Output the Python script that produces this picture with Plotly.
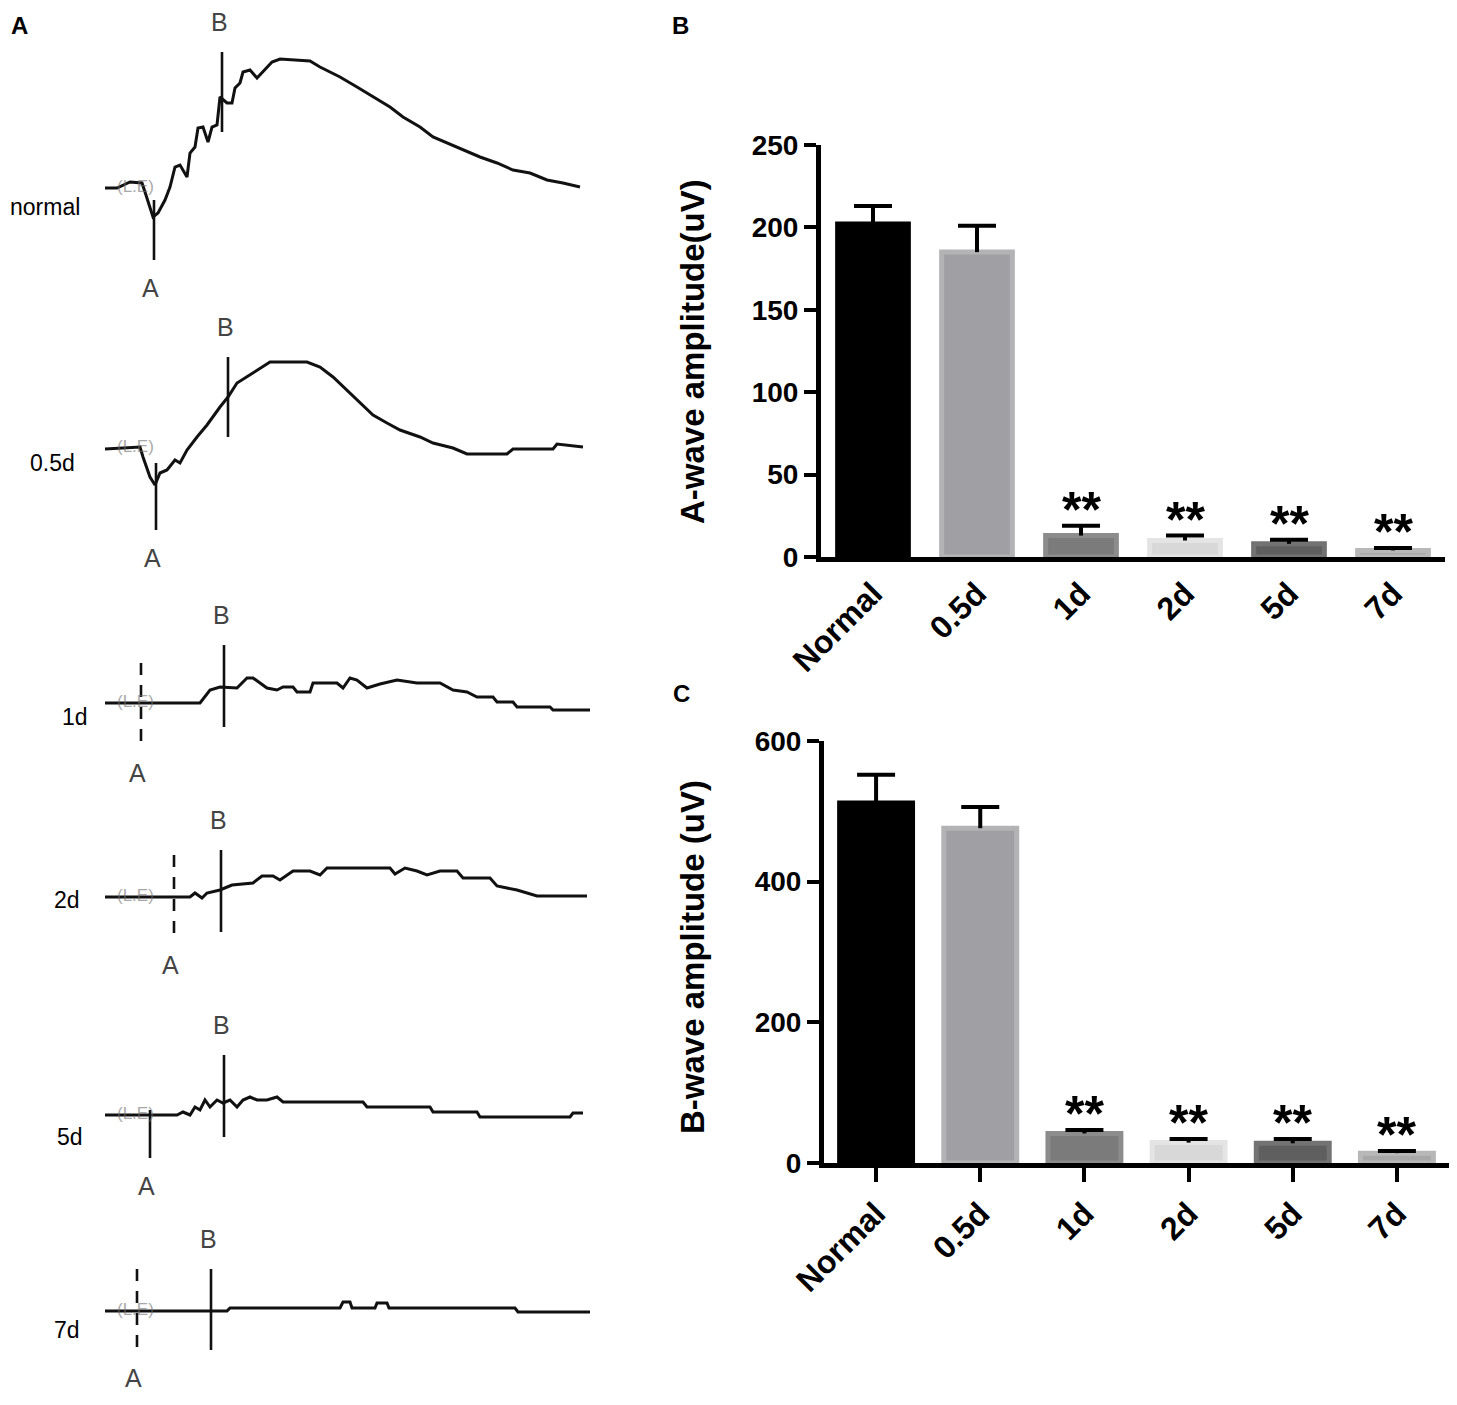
import plotly.graph_objects as go

# the page adds an 8 px body margin, so the figure is 16 px smaller than the window
PAGE_W, PAGE_H, BODY = 1457, 1405, 8
W, H = PAGE_W - 2 * BODY, PAGE_H - 2 * BODY

# ---- panels B / C : mean amplitude per group ----
groups = ["Normal", "0.5d", "1d", "2d", "5d", "7d"]
a_wave = [202, 185, 13, 10, 8, 4]
a_wave_sem = [11, 16, 6, 3, 2.5, 1.5]
b_wave = [512, 476, 42, 29, 28, 14]
b_wave_sem = [40, 30, 5, 5, 6, 3]
signif = ["", "", "**", "**", "**", "**"]

bar_fill = ["#000000", "#a0a0a4", "#7b7b7b", "#d8d8d8", "#5f5f5f", "#a8a8a8"]
bar_edge = ["#000000", "#b3b3b5", "#8c8c8c", "#e4e4e4", "#737373", "#b8b8b8"]

# ---- panel A : ERG recordings (time samples, amplitude rel. baseline) ----
rows = ["normal", "0.5d", "1d", "2d", "5d", "7d"]

t_normal = [105, 117, 130, 142, 145, 150, 153, 158, 165, 170, 175, 180, 187, 190, 195,
            198, 203, 208, 212, 217, 220, 227, 232, 235, 240, 243, 250, 257, 263, 272,
            280, 310, 320, 340, 357, 373, 390, 403, 420, 433, 447, 463, 480, 497, 513,
            530, 547, 563, 580]
v_normal = [0, 0, 6, 5, -4, -19, -29, -25, -12, 1, 21, 23, 11, 35, 41,
            60, 61, 46, 61, 63, 91, 85, 85, 100, 105, 116, 118, 110, 116, 126,
            129, 127, 121, 111, 101, 91, 81, 71, 61, 51, 45, 38, 31, 25, 18,
            15, 8, 5, 1]

t_05d = [105, 140, 143, 150, 155, 160, 167, 175, 180, 187, 197, 207, 220, 228, 237,
         253, 270, 307, 320, 333, 347, 360, 373, 387, 400, 420, 433, 453, 467, 507,
         513, 553, 557, 583]
v_05d = [0, 2, -8, -28, -36, -24, -21, -11, -14, -1, 12, 24, 42, 52, 66,
         76, 87, 87, 82, 72, 59, 46, 34, 26, 19, 12, 6, 1, -5, -5,
         0, 0, 5, 2]

t_1d = [105, 200, 210, 220, 237, 247, 253, 267, 277, 283, 293, 297, 310, 313, 337,
        343, 350, 357, 367, 380, 397, 417, 440, 453, 467, 477, 493, 497, 513, 517,
        550, 553, 590]
v_1d = [0, 0, 13, 16, 15, 25, 25, 15, 13, 16, 16, 11, 11, 20, 20,
        15, 25, 23, 15, 19, 23, 20, 20, 13, 11, 6, 6, 1, 1, -4,
        -4, -7, -7]

t_2d = [105, 190, 195, 202, 207, 220, 232, 253, 262, 273, 280, 293, 310, 320, 327,
        390, 395, 405, 417, 427, 440, 457, 463, 490, 497, 517, 537, 587]
v_2d = [0, 0, 4, -1, 4, 7, 12, 14, 21, 21, 17, 26, 26, 22, 29,
        29, 23, 29, 26, 22, 26, 26, 19, 19, 11, 7, 1, 1]

t_5d = [105, 177, 183, 190, 195, 200, 205, 210, 217, 223, 230, 237, 243, 250, 257,
        267, 277, 283, 363, 367, 430, 433, 477, 480, 570, 573, 583]
v_5d = [0, 0, 3, 0, 8, 5, 15, 8, 15, 12, 15, 8, 15, 18, 15,
        15, 18, 13, 13, 8, 8, 3, 3, -2, -2, 2, 2]

t_7d = [105, 227, 230, 340, 343, 350, 352, 375, 377, 387, 389, 515, 518, 590]
v_7d = [0, 0, 3, 3, 9, 9, 3, 3, 8, 8, 3, 3, -1, -1]

# a-wave / b-wave cursor markers on each recording
a_t = [154, 156, 141, 174, 150, 137]
a_top = [-12, -14, 40, 42, 5, 42]
a_bot = [-72, -81, -42, -40, -43, -39]
a_dashed = [False, False, True, True, False, True]
b_t = [222, 228, 224, 221, 224, 211]
b_top = [136, 92, 58, 47, 60, 42]
b_bot = [56, 12, -24, -35, -22, -39]

traces_t = [t_normal, t_05d, t_1d, t_2d, t_5d, t_7d]
traces_v = [v_normal, v_05d, v_1d, v_2d, v_5d, v_7d]

# layout of panel A rows (page pixels)
band_top = [BODY, 300, 590, 800, 1000, 1215]
band_bot = [300, 580, 790, 980, 1200, PAGE_H - BODY]
base_px = [188, 449, 703, 897, 1115, 1311]
label_x = [8, 28, 60, 52, 55, 52]
label_y = [207, 463, 717, 900, 1137, 1330]

FONT = "Liberation Sans, Arial, sans-serif"


def px_x(p):
    return (p - BODY) / W


def px_y(p):
    return 1 - (p - BODY) / H


def paper_text(text, x, y, size, bold=False, angle=0, xanchor="center"):
    return dict(x=px_x(x), y=px_y(y), xref="paper", yref="paper", text=text,
                showarrow=False, xanchor=xanchor, yanchor="middle", textangle=angle,
                font=dict(family=FONT, size=size, color="black",
                          weight="bold" if bold else "normal"))


fig = go.Figure()
annotations = []

# bar charts: bars + error stems, caps drawn by a zero-length error at the tip
panels = [("x", "y", a_wave, a_wave_sem, 0.68), ("x2", "y2", b_wave, b_wave_sem, 0.70)]
for xa, ya, vals, sem, bw in panels:
    fig.add_trace(go.Bar(
        x=groups, y=vals, width=bw,
        marker=dict(color=bar_fill, line=dict(color=bar_edge, width=5)),
        error_y=dict(type="data", array=sem, arrayminus=[0] * len(groups),
                     symmetric=False, color="black", thickness=4, width=0),
        xaxis=xa, yaxis=ya, hoverinfo="skip"))
    tips = [v + e for v, e in zip(vals, sem)]
    fig.add_trace(go.Scatter(
        x=groups, y=tips, mode="markers",
        marker=dict(size=1, color="rgba(0,0,0,0)"),
        error_y=dict(type="data", array=[0] * len(groups), color="black",
                     thickness=4, width=19),
        xaxis=xa, yaxis=ya, hoverinfo="skip"))
    for g, tip, s in zip(groups, tips, signif):
        if s:
            annotations.append(dict(x=g, y=tip, xref=xa, yref=ya, text=s,
                                    showarrow=False, yanchor="bottom", yshift=-14,
                                    font=dict(family=FONT, size=50, color="black",
                                              weight="bold")))

# ERG recordings
for i in range(6):
    xa, ya = f"x{3 + i}", f"y{3 + i}"
    fig.add_trace(go.Scatter(x=traces_t[i], y=traces_v[i], mode="lines",
                             line=dict(color="#111111", width=3),
                             xaxis=xa, yaxis=ya, hoverinfo="skip"))
    fig.add_trace(go.Scatter(x=[b_t[i], b_t[i]], y=[b_top[i], b_bot[i]], mode="lines",
                             line=dict(color="#111111", width=2.6),
                             xaxis=xa, yaxis=ya, hoverinfo="skip"))
    fig.add_trace(go.Scatter(x=[a_t[i], a_t[i]], y=[a_top[i], a_bot[i]], mode="lines",
                             line=dict(color="#111111", width=2.6,
                                       dash="12px,10px" if a_dashed[i] else "solid"),
                             xaxis=xa, yaxis=ya, hoverinfo="skip"))
    annotations.append(dict(x=b_t[i], y=b_top[i], xref=xa, yref=ya, text="B",
                            showarrow=False, yshift=30, xshift=-3,
                            xanchor="center", yanchor="middle",
                            font=dict(family=FONT, size=25, color="#444444")))
    annotations.append(dict(x=a_t[i], y=a_bot[i], xref=xa, yref=ya, text="A",
                            showarrow=False, yshift=-28, xshift=-4,
                            xanchor="center", yanchor="middle",
                            font=dict(family=FONT, size=25, color="#444444")))
    annotations.append(dict(x=135, y=2, xref=xa, yref=ya, text="(L.E)",
                            showarrow=False, opacity=0.6,
                            xanchor="center", yanchor="middle",
                            font=dict(family=FONT, size=17, color="#707070")))
    annotations.append(paper_text(rows[i], label_x[i], label_y[i], 23, xanchor="left"))

# axis titles and panel letters
annotations.append(paper_text("A-wave amplitude(uV)", 692, 352, 33, bold=True, angle=-90))
annotations.append(paper_text("B-wave amplitude (uV)", 692, 957, 33, bold=True, angle=-90))
annotations.append(paper_text("A", 19, 26, 24, bold=True))
annotations.append(paper_text("B", 680, 26, 24, bold=True))
annotations.append(paper_text("C", 681, 693, 24, bold=True))

tick_font = dict(family=FONT, size=28, color="black", weight="bold")
xtick_font = dict(family=FONT, size=32, color="black", weight="bold")

common_y = dict(showline=True, linewidth=5, linecolor="black", ticks="outside",
                ticklen=12, tickwidth=4, tickcolor="black", tickfont=tick_font,
                showgrid=False, zeroline=False, automargin=False)
common_x = dict(range=[-0.5, 5.5], showline=True, linewidth=5, linecolor="black",
                tickangle=-45, tickfont=xtick_font, showgrid=False, zeroline=False,
                automargin=False)

layout = dict(
    width=W, height=H,
    margin=dict(l=0, r=0, t=0, b=0, pad=0, autoexpand=False),
    paper_bgcolor="white", plot_bgcolor="white", showlegend=False,
    annotations=annotations,
    xaxis=dict(domain=[px_x(821), px_x(1445)], anchor="y", ticks="", **common_x),
    yaxis=dict(domain=[px_y(557), px_y(145)], anchor="x", range=[0, 250], dtick=50,
               **common_y),
    xaxis2=dict(domain=[px_x(824), 1.0], anchor="y2", ticks="outside", ticklen=14,
                tickwidth=4, tickcolor="black", **common_x),
    yaxis2=dict(domain=[px_y(1163), px_y(741)], anchor="x2", range=[0, 600], dtick=200,
                **common_y),
)
for i in range(6):
    layout[f"xaxis{3 + i}"] = dict(domain=[0, px_x(600)], anchor=f"y{3 + i}",
                                   range=[BODY, 600], visible=False, automargin=False)
    layout[f"yaxis{3 + i}"] = dict(domain=[px_y(band_bot[i]), px_y(band_top[i])],
                                   anchor=f"x{3 + i}",
                                   range=[base_px[i] - band_bot[i], base_px[i] - band_top[i]],
                                   visible=False, automargin=False)

fig.update_layout(**layout)
fig.write_html("out.html")
